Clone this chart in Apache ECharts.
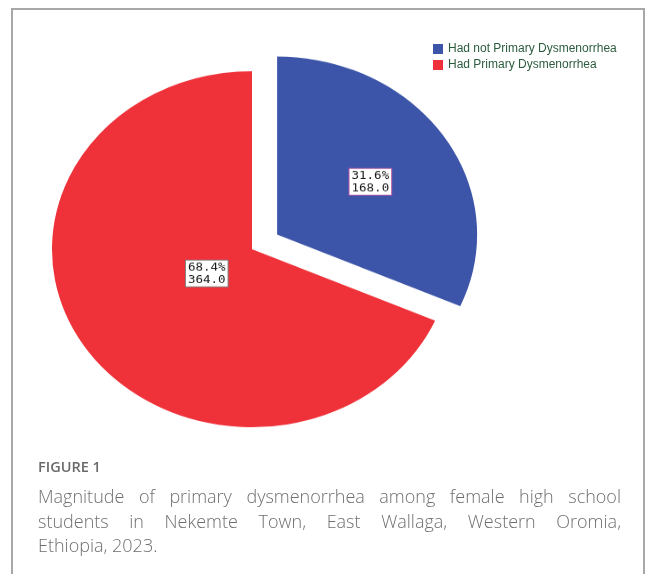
<!DOCTYPE html>
<html><head><meta charset="utf-8">
<script src="https://cdn.jsdelivr.net/npm/echarts@6/dist/echarts.min.js"></script>
<style>
html,body{margin:0;padding:0;background:#fff;width:656px;height:574px;overflow:hidden;}
#frame{position:absolute;left:11px;top:8px;width:634px;height:620px;border:2px solid #a8a8a8;border-bottom:none;box-sizing:border-box;}
#pie{position:absolute;left:0;top:0;width:656px;height:574px;transform:scaleY(0.89);transform-origin:0 0;}
#legend{position:absolute;left:0;top:0;width:656px;height:120px;}
#fig{position:absolute;left:38px;top:457px;font-family:'Open Sans';font-weight:600;font-size:14.5px;color:#6a6a6a;}
#cap{position:absolute;left:38px;top:484px;width:583px;font-family:'Open Sans';font-weight:300;font-size:18px;line-height:24.5px;color:#6f6f6f;}
#cap div{white-space:nowrap;}
#cap .j{text-align:justify;text-align-last:justify;}
</style></head>
<body>
<div id="frame"></div>
<div id="pie"></div>
<div id="legend"></div>
<div id="fig">FIGURE 1</div>
<div id="cap"><div class="j">Magnitude of primary dysmenorrhea among female high school</div><div class="j">students in Nekemte Town, East Wallaga, Western Oromia,</div><div>Ethiopia, 2023.</div></div>
<script>
const categories = ['Had not Primary Dysmenorrhea', 'Had Primary Dysmenorrhea'];
const counts = [168, 364];
const colors = ['#3d55a9', '#ef3139'];
const labelBorders = ['#b45aa8', '#808080'];

const pieData = categories.map((name, i) => ({
  name: name,
  value: counts[i],
  selected: i === 0,
  itemStyle: { color: colors[i] },
  label: { borderColor: labelBorders[i] }
}));

const nudge = [[7, -3], [41, -29]];

const pie = echarts.init(document.getElementById('pie'), null, { renderer: 'canvas' });
pie.setOption({
  animation: false,
  series: [{
    type: 'pie',
    center: [252, 280],
    radius: 200,
    startAngle: 90,
    clockwise: true,
    selectedMode: 'single',
    selectedOffset: 30,
    itemStyle: { borderWidth: 0 },
    emphasis: { disabled: true },
    select: { itemStyle: { borderWidth: 0 } },
    label: {
      show: true,
      position: 'inside',
      formatter: p => p.percent.toFixed(1) + '%\n' + p.value.toFixed(1),
      fontFamily: 'DejaVu Sans Mono',
      fontSize: 12.5,
      lineHeight: 14,
      color: '#1a1a1a',
      backgroundColor: '#ffffff',
      borderWidth: 1,
      padding: [1, 2, 0, 2],
      align: 'center'
    },
    labelLine: { show: false },
    labelLayout: p => ({ dx: nudge[p.dataIndex][0], dy: nudge[p.dataIndex][1] }),
    data: pieData
  }]
});

const leg = echarts.init(document.getElementById('legend'), null, { renderer: 'canvas' });
leg.setOption({
  animation: false,
  legend: {
    orient: 'vertical',
    left: 433,
    top: 42,
    padding: 0,
    itemWidth: 10,
    itemHeight: 10,
    itemGap: 2,
    icon: 'rect',
    selectedMode: false,
    data: categories,
    textStyle: { fontFamily: 'Liberation Sans', fontSize: 12, lineHeight: 14, color: '#2c5c3e' }
  },
  series: [{
    type: 'pie',
    radius: [0, 0],
    center: [-100, -100],
    silent: true,
    label: { show: false },
    data: categories.map((name, i) => ({ name: name, value: counts[i], itemStyle: { color: colors[i] } }))
  }]
});
</script>
</body></html>
